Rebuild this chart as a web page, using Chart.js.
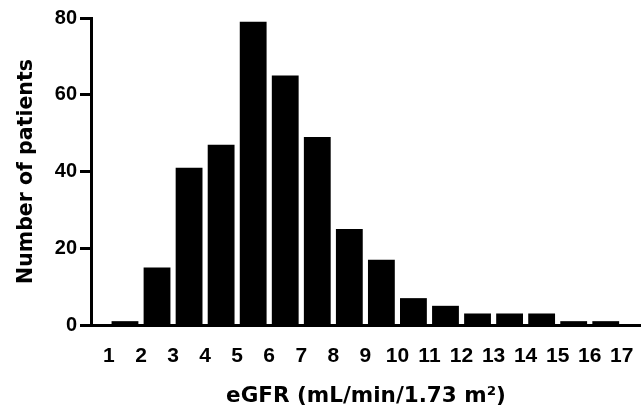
<!DOCTYPE html>
<html>
<head>
<meta charset="utf-8">
<script src="https://cdn.jsdelivr.net/npm/chart.js@4"></script>
<style>
  html, body { margin: 0; padding: 0; background: #fff; }
  #wrap { width: 641px; height: 409px; }
</style>
</head>
<body>
<div id="wrap"><canvas id="histChart" width="641" height="409"></canvas></div>
<script>
// bin centres sit between the eGFR edge labels 1..17
const binCenters = [1.5, 2.5, 3.5, 4.5, 5.5, 6.5, 7.5, 8.5, 9.5, 10.5, 11.5, 12.5, 13.5, 14.5, 15.5, 16.5];
const patientCounts = [1, 15, 41, 47, 79, 65, 49, 25, 17, 7, 5, 3, 3, 3, 1, 1];
const edgeLabels = [1, 2, 3, 4, 5, 6, 7, 8, 9, 10, 11, 12, 13, 14, 15, 16, 17];
const yTicks = [0, 20, 40, 60, 80];

const tickFont = "'Liberation Sans', Arial, sans-serif";
const titleFont = "'DejaVu Sans', sans-serif";

const chart = new Chart(document.getElementById("histChart"), {
  type: "bar",
  data: {
    datasets: [
      {
        label: "Number of patients",
        data: binCenters.map((x, i) => ({ x, y: patientCounts[i] })),
        backgroundColor: "#000",
        borderWidth: 0,
        barPercentage: 0.9,
        categoryPercentage: 0.93,
      },
    ],
  },
  options: {
    responsive: false,
    animation: false,
    layout: { padding: { top: 18, right: 0, left: 0, bottom: 0 } },
    plugins: { legend: { display: false }, tooltip: { enabled: false } },
    scales: {
      x: {
        type: "linear",
        offset: false,
        min: 0.44,
        max: 17.6,
        afterBuildTicks: (scale) => { scale.ticks = edgeLabels.map((v) => ({ value: v })); },
        grid: { display: false, offset: false },
        border: { display: true, color: "#000", width: 3 },
        ticks: {
          autoSkip: false,
          maxRotation: 0,
          padding: 11,
          color: "#000",
          font: { family: tickFont, weight: "bold", size: 21 },
        },
        title: {
          display: true,
          text: "eGFR (mL/min/1.73 m²)",
          color: "#000",
          font: { family: titleFont, weight: "bold", size: 21.5 },
          padding: { top: 2, bottom: 0 },
        },
        afterFit: (scale) => {
          scale.height = 84;
          scale.paddingLeft = 0;
          scale.paddingRight = 0;
        },
      },
      y: {
        min: 0,
        max: 80,
        afterBuildTicks: (scale) => { scale.ticks = yTicks.map((v) => ({ value: v })); },
        grid: { drawOnChartArea: false, drawTicks: true, tickLength: 11, tickWidth: 3, tickColor: "#000" },
        border: { display: true, color: "#000", width: 3 },
        ticks: {
          padding: 3,
          color: "#000",
          font: { family: tickFont, weight: "bold", size: 20 },
        },
        title: {
          display: true,
          text: "Number of patients",
          color: "#000",
          font: { family: titleFont, weight: "bold", size: 20.5 },
          padding: { top: 14, bottom: 0 },
        },
        afterFit: (scale) => { scale.width = 91; },
      },
    },
  },
});
</script>
</body>
</html>
